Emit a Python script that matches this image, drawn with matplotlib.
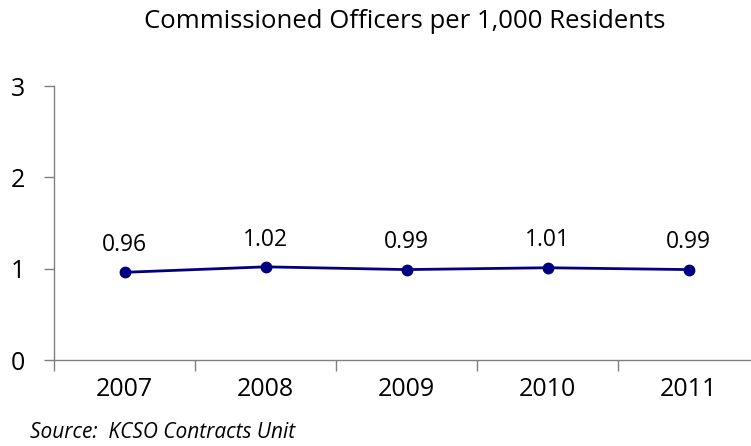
import matplotlib
matplotlib.use("Agg")
import matplotlib.pyplot as plt

years = ["2007", "2008", "2009", "2010", "2011"]
officers = [0.96, 1.02, 0.99, 1.01, 0.99]
value_labels = ["0.96", "1.02", "0.99", "1.01", "0.99"]

plt.rcParams["font.family"] = ["Open Sans", "DejaVu Sans"]

W, H = 751, 446
fig = plt.figure(figsize=(W / 100, H / 100), dpi=100)
ax = fig.add_axes([54 / W, 86 / H, 705 / W, 274 / H])

x = list(range(len(years)))
ax.plot(x, officers, color="#000080", lw=2, marker="o", ms=7.5, zorder=3)
for xi, yi, lab in zip(x, officers, value_labels):
    ax.annotate(lab, (xi, yi), xytext=(0, 11), textcoords="offset points",
                ha="center", va="bottom", fontsize=16.5)

ax.set_xlim(-0.5, 4.5)
ax.set_ylim(0, 3)
ax.set_yticks([0, 1, 2, 3])
ax.set_yticklabels(["0", "1", "2", "3"], fontsize=18)
ax.set_xticks([i - 0.5 for i in range(len(years) + 1)])
ax.set_xticklabels([])
ax.set_xticks(x, minor=True)
ax.set_xticklabels(years, minor=True, fontsize=18)
ax.tick_params(axis="x", which="minor", length=0, pad=12)
ax.tick_params(axis="x", which="major", length=8, color="#808080", width=1)
ax.tick_params(axis="y", length=7, color="#808080", width=1, pad=14)

for side in ("top", "right"):
    ax.spines[side].set_visible(False)
for side in ("left", "bottom"):
    ax.spines[side].set_color("#808080")
    ax.spines[side].set_linewidth(1)

fig.text(405 / W, 1 - 22 / H, "Commissioned Officers per 1,000 Residents",
         ha="center", va="center", fontsize=18.5)
fig.text(30 / W, 1 - 432 / H, "Source:  KCSO Contracts Unit",
         ha="left", va="center", fontsize=15, style="italic")

fig.savefig("out.png", dpi=100)
